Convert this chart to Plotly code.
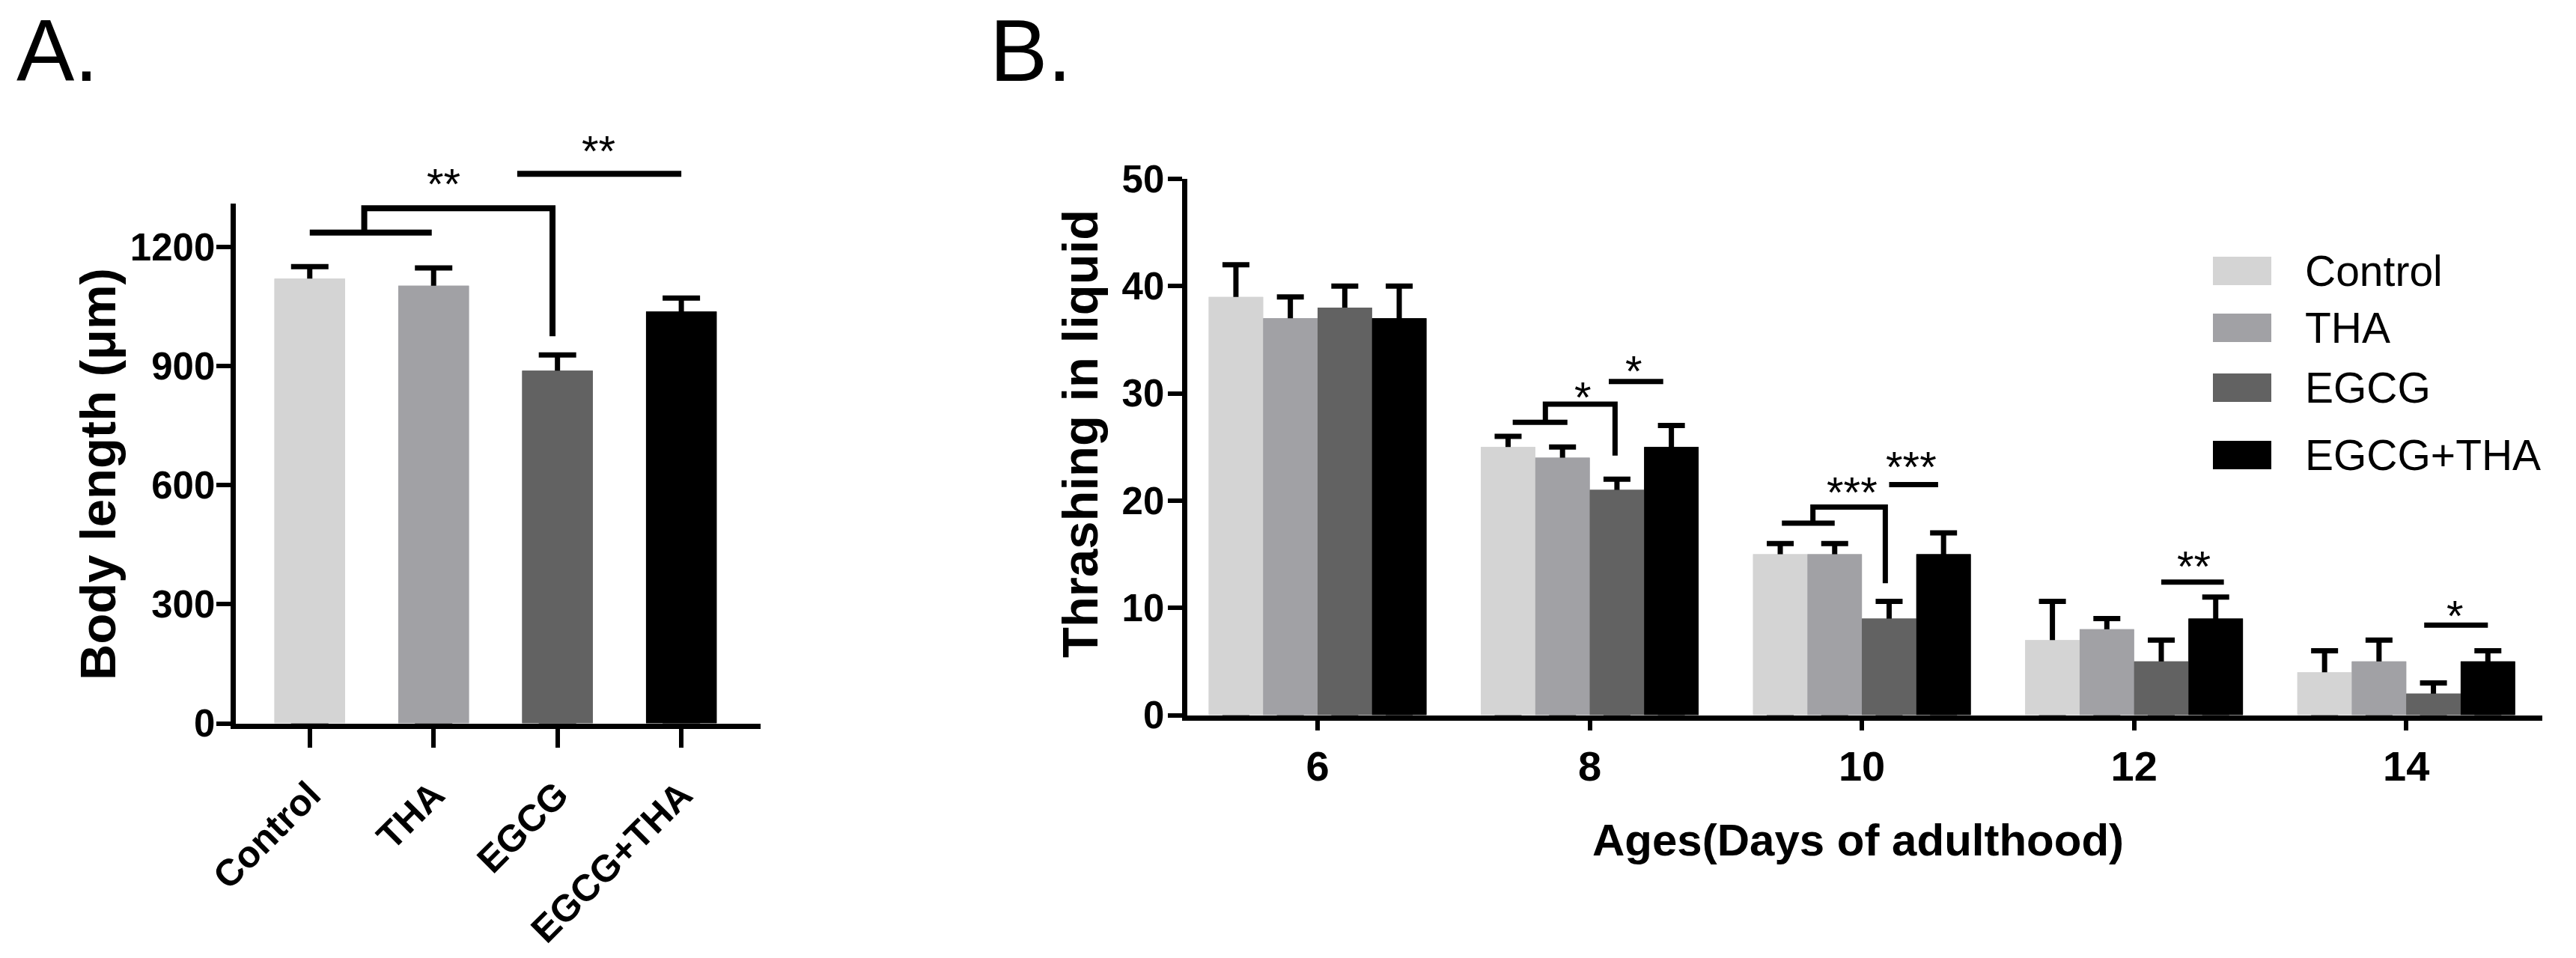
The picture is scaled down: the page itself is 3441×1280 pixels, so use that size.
import plotly.graph_objects as go

W, H = 3441, 1280
FONT = "Arial, Liberation Sans, sans-serif"

# ---------------- Panel A data ----------------
groups = ["Control", "THA", "EGCG", "EGCG+THA"]
group_colors = ["#d4d4d4", "#a1a1a5", "#626262", "#000000"]
body_length = [1120, 1102, 888, 1037]
body_length_sd = [30, 45, 40, 34]
body_ticks = [0, 300, 600, 900, 1200]

# ---------------- Panel B data ----------------
days = [6, 8, 10, 12, 14]
thrash_control = [39, 25, 15, 7, 4]
thrash_control_sd = [3, 1, 1, 3.6, 2]
thrash_tha = [37, 24, 15, 8, 5]
thrash_tha_sd = [2, 1, 1, 1, 2]
thrash_egcg = [38, 21, 9, 5, 2]
thrash_egcg_sd = [2, 1, 1.6, 2, 1]
thrash_egcg_tha = [37, 25, 15, 9, 5]
thrash_egcg_tha_sd = [3, 2, 2, 2, 1]
thrash_ticks = [0, 10, 20, 30, 40, 50]

# significance marks, panel A: (category position, value)
sigA_paths = [
    [(0.0, 1236), (0.985, 1236)],
    [(0.44, 1236), (0.44, 1297), (1.96, 1297), (1.96, 975)],
    [(1.675, 1384), (3.0, 1384)],
]
sigA_labels = [(1.08, 1384, "**"), (2.33, 1466, "**")]

# significance marks, panel B: (day, offset in days, value)
sigB_paths = [
    [(8, -0.566, 27.3), (8, -0.164, 27.3)],
    [(8, -0.326, 27.3), (8, -0.326, 29.0), (8, 0.186, 29.0), (8, 0.186, 24.2)],
    [(8, 0.14, 31.1), (8, 0.54, 31.1)],
    [(10, -0.588, 17.9), (10, -0.2, 17.9)],
    [(10, -0.36, 17.9), (10, -0.36, 19.4), (10, 0.172, 19.4), (10, 0.172, 12.3)],
    [(10, 0.2, 21.5), (10, 0.56, 21.5)],
    [(12, 0.2, 12.4), (12, 0.66, 12.4)],
    [(14, 0.132, 8.4), (14, 0.6, 8.4)],
]
sigB_labels = [
    (8, -0.05, 30.6, "*"), (8, 0.324, 33.0, "*"),
    (10, -0.072, 21.7, "***"), (10, 0.36, 24.1, "***"),
    (12, 0.44, 14.8, "**"), (14, 0.36, 10.2, "*"),
]

# ---------------- layout geometry (pixels) ----------------
def px(x):
    return x / W

def py(y):
    return 1 - y / H

A_left, A_right, A_top, A_bottom = 314.5, 1016, 272, 966.5
B_left, B_right, B_top, B_bottom = 1585.5, 3396, 239, 955.5
A_xrange = [-0.6, 3.64]
A_yrange = [0, 1309]
B_xrange = [5.04, 15.0]
B_yrange = [0, 50]

fig = go.Figure()

# ----- Panel A bars (error layer, then cover layer) -----
fig.add_trace(go.Bar(
    x=groups, y=body_length, width=0.57,
    marker=dict(color=group_colors, line=dict(width=0)),
    error_y=dict(type="data", symmetric=False, array=body_length_sd,
                 arrayminus=body_length, color="black", thickness=7, width=25),
    xaxis="x", yaxis="y", showlegend=False, hoverinfo="skip",
))
fig.add_trace(go.Bar(
    x=groups, y=body_length, width=0.57,
    marker=dict(color=group_colors, line=dict(width=0)),
    xaxis="x", yaxis="y", showlegend=False, hoverinfo="skip",
))

# ----- Panel B bars -----
series_B = [
    ("Control", thrash_control, thrash_control_sd, group_colors[0]),
    ("THA", thrash_tha, thrash_tha_sd, group_colors[1]),
    ("EGCG", thrash_egcg, thrash_egcg_sd, group_colors[2]),
    ("EGCG+THA", thrash_egcg_tha, thrash_egcg_tha_sd, group_colors[3]),
]
bw = 0.4
for i, (name, vals, sd, col) in enumerate(series_B):
    fig.add_trace(go.Bar(
        x=days, y=vals, width=bw, offset=-2 * bw + i * bw,
        marker=dict(color=col, line=dict(width=0)),
        error_y=dict(type="data", symmetric=False, array=sd, arrayminus=vals,
                     color="black", thickness=7, width=18),
        xaxis="x2", yaxis="y2", name=name, showlegend=False, hoverinfo="skip",
    ))
for i, (name, vals, sd, col) in enumerate(series_B):
    fig.add_trace(go.Bar(
        x=days, y=vals, width=bw, offset=-2 * bw + i * bw,
        marker=dict(color=col, line=dict(width=0)),
        xaxis="x2", yaxis="y2", name=name, showlegend=False, hoverinfo="skip",
    ))

shapes = []
annotations = []

# Panel A significance (domain refs so they may extend above the axis)
def a_dx(c):
    return (c - A_xrange[0]) / (A_xrange[1] - A_xrange[0])

def a_dy(v):
    return (v - A_yrange[0]) / (A_yrange[1] - A_yrange[0])

def a_paper_x(c):
    return px(A_left + a_dx(c) * (A_right - A_left))

def a_paper_y(v):
    return py(A_bottom - a_dy(v) * (A_bottom - A_top))

for pts in sigA_paths:
    d = "M" + " L".join(f"{a_dx(c):.5f},{a_dy(v):.5f}" for c, v in pts)
    shapes.append(dict(type="path", path=d, xref="x domain", yref="y domain",
                       line=dict(color="black", width=8)))
for c, v, t in sigA_labels:
    annotations.append(dict(x=a_paper_x(c), y=a_paper_y(v), xref="paper", yref="paper",
                            xanchor="center", yanchor="middle",
                            text=t, showarrow=False, yshift=-13,
                            font=dict(family=FONT, size=58, color="black")))

# Panel B significance
for pts in sigB_paths:
    d = "M" + " L".join(f"{day + off:.4f},{v:.4f}" for day, off, v in pts)
    shapes.append(dict(type="path", path=d, xref="x2", yref="y2",
                       line=dict(color="black", width=7)))
for day, off, v, t in sigB_labels:
    annotations.append(dict(x=day + off, y=v, xref="x2", yref="y2",
                            text=t, showarrow=False, yshift=-13,
                            font=dict(family=FONT, size=58, color="black")))

# Legend (manual, to get the large swatches)
legend_rows = [362, 438, 518, 608]
for (name, _, _, col), yc in zip(series_B, legend_rows):
    shapes.append(dict(type="rect", xref="paper", yref="paper",
                       x0=px(2956), x1=px(3034), y0=py(yc + 19), y1=py(yc - 19),
                       fillcolor=col, line=dict(width=0)))
    annotations.append(dict(x=px(3077), y=py(yc), xref="paper", yref="paper",
                            xanchor="left", yanchor="middle", text=name, showarrow=False,
                            font=dict(family=FONT, size=57, color="black")))

# Panel labels and axis titles
annotations += [
    dict(x=px(20), y=py(68.5), xref="paper", yref="paper", xanchor="left", yanchor="middle",
         text="A.", showarrow=False, font=dict(family=FONT, size=116, color="black")),
    dict(x=px(1320), y=py(68.5), xref="paper", yref="paper", xanchor="left", yanchor="middle",
         text="B.", showarrow=False, font=dict(family=FONT, size=116, color="black")),
    dict(x=px(130), y=py(634), xref="paper", yref="paper", xanchor="center", yanchor="middle",
         text="Body length (μm)", textangle=-90, showarrow=False,
         font=dict(family=FONT, size=67, color="black", weight="bold")),
    dict(x=px(1442), y=py(580), xref="paper", yref="paper", xanchor="center", yanchor="middle",
         text="Thrashing in liquid", textangle=-90, showarrow=False,
         font=dict(family=FONT, size=67, color="black", weight="bold")),
    dict(x=px(2482), y=py(1122), xref="paper", yref="paper", xanchor="center", yanchor="middle",
         text="Ages(Days of adulthood)", showarrow=False,
         font=dict(family=FONT, size=60, color="black", weight="bold")),
]

axis_common = dict(showline=True, linecolor="black", linewidth=7, showgrid=False,
                   zeroline=False, ticks="outside", tickcolor="black", tickwidth=6,
                   automargin=False, fixedrange=True)

fig.update_layout(
    width=W, height=H, autosize=False,
    margin=dict(l=0, r=0, t=0, b=0, pad=0),
    paper_bgcolor="white", plot_bgcolor="white",
    barmode="overlay", showlegend=False,
    font=dict(family=FONT, color="black"),
    xaxis=dict(domain=[px(A_left), px(A_right)], type="category", range=A_xrange,
               anchor="y", ticklen=25, tickangle=-45, ticklabelstandoff=14,
               tickfont=dict(family=FONT, size=50, color="black", weight="bold"),
               **axis_common),
    yaxis=dict(domain=[py(A_bottom), py(A_top)], range=A_yrange, anchor="x",
               tickmode="array", tickvals=body_ticks, ticklen=19, ticklabelstandoff=-9,
               tickfont=dict(family=FONT, size=51, color="black", weight="bold"),
               **axis_common),
    xaxis2=dict(domain=[px(B_left), px(B_right)], range=B_xrange, anchor="y2",
                tickmode="array", tickvals=days, ticktext=[str(d) for d in days], ticklen=13,
                tickfont=dict(family=FONT, size=56, color="black", weight="bold"),
                **axis_common),
    yaxis2=dict(domain=[py(B_bottom), py(B_top)], range=B_yrange, anchor="x2",
                tickmode="array", tickvals=thrash_ticks, ticklen=19, ticklabelstandoff=-6,
                tickfont=dict(family=FONT, size=51, color="black", weight="bold"),
                **axis_common),
    shapes=shapes,
    annotations=annotations,
)

fig.write_html("out.html", config={"displayModeBar": False},
               post_script="document.body.style.margin='0px';document.body.style.overflow='hidden';")
